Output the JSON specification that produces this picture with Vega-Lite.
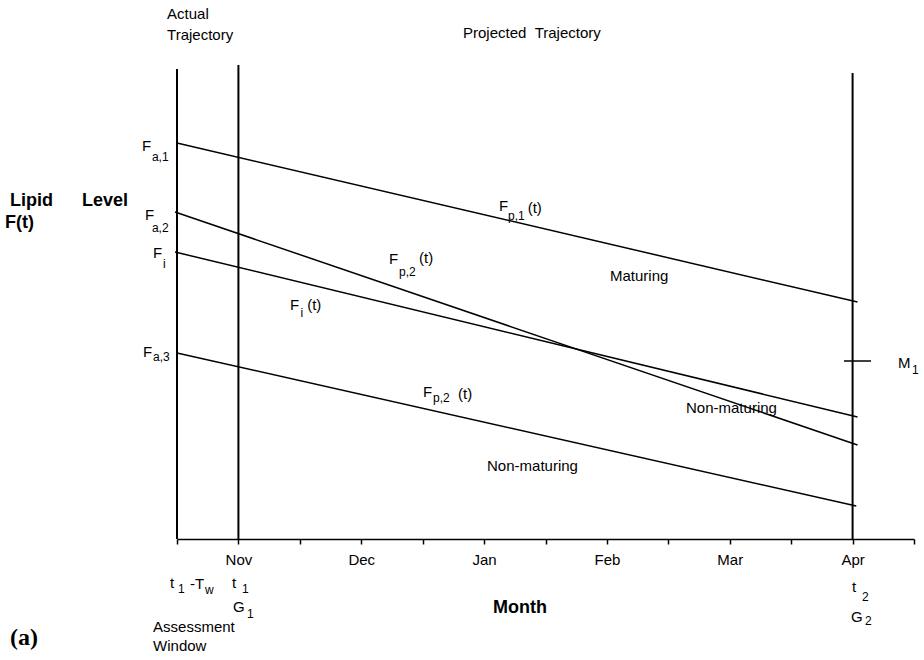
{
  "$schema": "https://vega.github.io/schema/vega-lite/v6.json",
  "width": 737,
  "height": 539,
  "autosize": {"type": "none"},
  "padding": {"left": 177, "top": 0, "right": 10, "bottom": 121},
  "background": "white",
  "view": {"stroke": null},
  "config": {"font": "Liberation Sans"},
  "datasets": {
    "verticals": [
      {"month": -0.5, "level": 0, "top": 94.0},
      {"month": 0, "level": 0, "top": 94.8},
      {"month": 5, "level": 0, "top": 93.2}
    ],
    "lines": [
      {"series": "Fa1", "month": -0.5, "level": 79.2},
      {"series": "Fa1", "month": 5.04, "level": 47.4},
      {"series": "Fa2", "month": -0.516, "level": 65.4},
      {"series": "Fa2", "month": 5.04, "level": 18.8},
      {"series": "Fi", "month": -0.516, "level": 57.4},
      {"series": "Fi", "month": 5.04, "level": 24.4},
      {"series": "Fa3", "month": -0.5, "level": 37.2},
      {"series": "Fa3", "month": 5.03, "level": 6.6},
      {"series": "M1", "month": 4.93, "level": 35.6},
      {"series": "M1", "month": 5.15, "level": 35.6}
    ],
    "mainText": [
      {"label": "Actual", "month": -0.581, "level": 105.0},
      {"label": "Trajectory", "month": -0.581, "level": 100.8},
      {"label": "Projected\u00a0\u00a0Trajectory", "month": 1.828, "level": 101.2},
      {"label": "F", "month": -0.785, "level": 78.6},
      {"label": "F", "month": -0.761, "level": 64.8},
      {"label": "F", "month": -0.695, "level": 57.2},
      {"label": "F", "month": -0.777, "level": 37.4},
      {"label": "F", "month": 0.420, "level": 46.8},
      {"label": "(t)", "month": 0.560, "level": 46.8},
      {"label": "F", "month": 1.226, "level": 56.0},
      {"label": "(t)", "month": 1.470, "level": 56.2},
      {"label": "F", "month": 2.121, "level": 66.6},
      {"label": "(t)", "month": 2.355, "level": 66.2},
      {"label": "F", "month": 1.503, "level": 29.4},
      {"label": "(t)", "month": 1.788, "level": 29.0},
      {"label": "M", "month": 5.370, "level": 35.2},
      {"label": "Maturing", "month": 3.025, "level": 52.6},
      {"label": "Non-maturing", "month": 3.644, "level": 26.2},
      {"label": "Non-maturing", "month": 2.024, "level": 14.6},
      {"label": "t", "month": -0.557, "level": -8.8},
      {"label": "-T", "month": -0.394, "level": -9.0},
      {"label": "t", "month": -0.052, "level": -8.8},
      {"label": "G", "month": -0.044, "level": -13.6},
      {"label": "Assessment", "month": -0.695, "level": -17.6},
      {"label": "Window", "month": -0.695, "level": -21.4},
      {"label": "t", "month": 4.995, "level": -9.6},
      {"label": "G", "month": 4.987, "level": -15.6}
    ],
    "subText": [
      {"label": "a,1", "month": -0.704, "level": 76.4},
      {"label": "a,2", "month": -0.704, "level": 62.2},
      {"label": "i", "month": -0.614, "level": 55.0},
      {"label": "a,3", "month": -0.695, "level": 36.4},
      {"label": "i", "month": 0.505, "level": 45.2},
      {"label": "p,2", "month": 1.307, "level": 53.4},
      {"label": "p,1", "month": 2.195, "level": 64.6},
      {"label": "p,2", "month": 1.584, "level": 28.2},
      {"label": "1", "month": 5.484, "level": 33.8},
      {"label": "1", "month": -0.492, "level": -10.0},
      {"label": "w", "month": -0.272, "level": -10.2},
      {"label": "1", "month": 0.029, "level": -10.0},
      {"label": "1", "month": 0.070, "level": -15.0},
      {"label": "2", "month": 5.077, "level": -11.6},
      {"label": "2", "month": 5.101, "level": -16.4}
    ],
    "boldText": [
      {"label": "Lipid", "month": -1.860, "level": 67.6},
      {"label": "Level", "month": -1.273, "level": 67.6},
      {"label": "F(t)", "month": -1.900, "level": 63.2},
      {"label": "Month", "month": 2.073, "level": -13.8}
    ],
    "panel": [
      {"label": "(a)", "month": -1.860, "level": -19.8}
    ]
  },
  "encoding": {
    "x": {
      "field": "month",
      "type": "quantitative",
      "scale": {"domain": [-0.5, 5.5], "nice": false, "zero": false},
      "axis": {
        "values": [-0.5, 0, 0.5, 1, 1.5, 2, 2.5, 3, 3.5, 4, 4.5, 5, 5.5],
        "labelExpr": "datum.value == 0 ? 'Nov' : datum.value == 1 ? 'Dec' : datum.value == 2 ? 'Jan' : datum.value == 3 ? 'Feb' : datum.value == 4 ? 'Mar' : datum.value == 5 ? 'Apr' : ''",
        "title": null,
        "grid": false,
        "domainColor": "black",
        "domainWidth": 1.5,
        "tickColor": "black",
        "tickWidth": 1.5,
        "tickSize": 5,
        "labelFont": "Liberation Sans",
        "labelFontSize": 15,
        "labelColor": "black",
        "labelPadding": 8,
        "labelOverlap": false,
        "labelFlush": false
      }
    },
    "y": {
      "field": "level",
      "type": "quantitative",
      "scale": {"domain": [0, 107.8], "nice": false, "zero": false},
      "axis": null
    }
  },
  "layer": [
    {
      "data": {"name": "verticals"},
      "mark": {"type": "rule", "color": "black", "strokeWidth": 2},
      "encoding": {"y2": {"field": "top"}}
    },
    {
      "data": {"name": "lines"},
      "mark": {"type": "line", "color": "black", "strokeWidth": 1.5},
      "encoding": {"detail": {"field": "series"}}
    },
    {
      "data": {"name": "mainText"},
      "mark": {"type": "text", "align": "left", "baseline": "middle", "font": "Liberation Sans", "fontSize": 15, "color": "black"},
      "encoding": {"text": {"field": "label"}}
    },
    {
      "data": {"name": "subText"},
      "mark": {"type": "text", "align": "left", "baseline": "middle", "font": "Liberation Sans", "fontSize": 12, "color": "black"},
      "encoding": {"text": {"field": "label"}}
    },
    {
      "data": {"name": "boldText"},
      "mark": {"type": "text", "align": "left", "baseline": "middle", "font": "Liberation Sans", "fontSize": 18, "fontWeight": "bold", "color": "black"},
      "encoding": {"text": {"field": "label"}}
    },
    {
      "data": {"name": "panel"},
      "mark": {"type": "text", "align": "left", "baseline": "middle", "font": "Liberation Serif", "fontSize": 24, "fontWeight": "bold", "color": "black"},
      "encoding": {"text": {"field": "label"}}
    }
  ]
}
